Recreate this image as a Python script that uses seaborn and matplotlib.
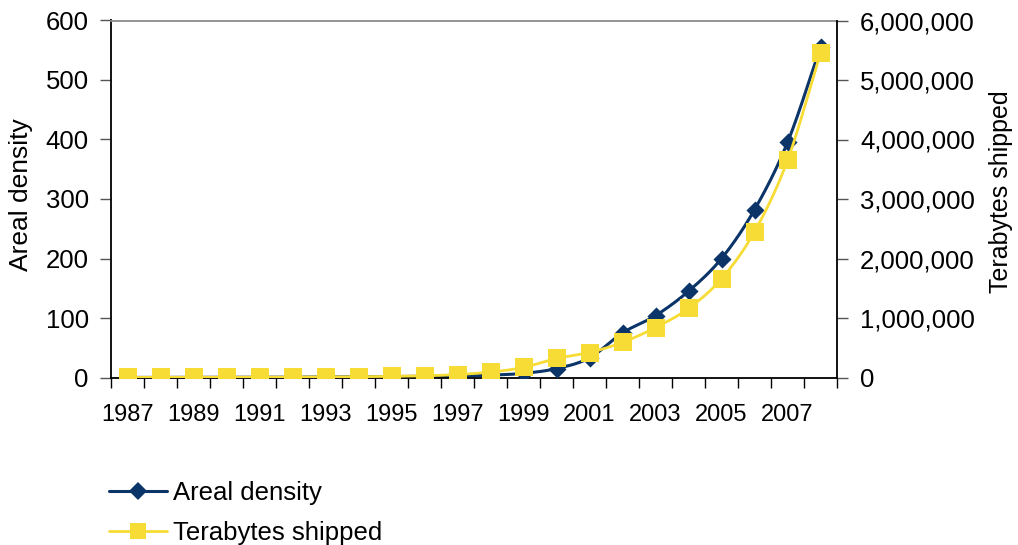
import numpy as np
import matplotlib
matplotlib.use("Agg")
import matplotlib.pyplot as plt
from matplotlib.lines import Line2D
from matplotlib.ticker import FuncFormatter, FixedLocator
import seaborn as sns

# Hard disk areal density vs. terabytes shipped, 1987-2008
years = list(range(1987, 2009))
areal_density = [0.1, 0.15, 0.2, 0.3, 0.4, 0.6, 0.9, 1.2, 1.6, 2.0, 2.5, 4, 7, 15,
                 33, 75, 104, 145, 200, 282, 395, 555]
terabytes_shipped = [1000, 1500, 2000, 3000, 4500, 6500, 9000, 13000, 19000, 28000,
                     50000, 90000, 170000, 320000, 420000, 590000, 840000,
                     1160000, 1660000, 2450000, 3650000, 5450000]
left_ticks = [0, 100, 200, 300, 400, 500, 600]
right_ticks = [0, 1000000, 2000000, 3000000, 4000000, 5000000, 6000000]
year_labels = [y for y in years if y % 2 == 1]

NAVY = "#0B3468"
YELLOW = "#F7DC36"

sns.set_style("white")
plt.rcParams["font.family"] = ["Liberation Sans", "DejaVu Sans"]
plt.rcParams.update({"text.color": "black", "axes.labelcolor": "black",
                     "xtick.color": "black", "ytick.color": "black"})


def smooth(x, y, n=20):
    """Catmull-Rom spline through the points (smoothed line rendering)."""
    x = np.asarray(x, float)
    y = np.asarray(y, float)
    px = np.concatenate([[2 * x[0] - x[1]], x, [2 * x[-1] - x[-2]]])
    py = np.concatenate([[2 * y[0] - y[1]], y, [2 * y[-1] - y[-2]]])
    xs, ys = [], []
    t = np.linspace(0, 1, n, endpoint=False)
    for i in range(1, len(px) - 2):
        for arr, out in ((px, xs), (py, ys)):
            p0, p1, p2, p3 = arr[i - 1], arr[i], arr[i + 1], arr[i + 2]
            out.extend(0.5 * ((2 * p1) + (-p0 + p2) * t
                              + (2 * p0 - 5 * p1 + 4 * p2 - p3) * t ** 2
                              + (-p0 + 3 * p1 - 3 * p2 + p3) * t ** 3))
    xs.append(x[-1])
    ys.append(y[-1])
    return np.array(xs), np.array(ys)


W, H = 1018, 545
fig = plt.figure(figsize=(W / 100, H / 100), dpi=100)
ax = fig.add_axes([111 / W, 1 - 377.5 / H, (837 - 111) / W, (377.5 - 20.5) / H])
ax2 = ax.twinx()

# Areal density (left axis)
sx, sy = smooth(years, areal_density)
sns.lineplot(x=sx, y=sy, ax=ax, color=NAVY, linewidth=2.2, sort=False, estimator=None)
sns.scatterplot(x=years, y=areal_density, ax=ax, color=NAVY, marker="D", s=85,
                edgecolor=NAVY, linewidth=0, zorder=3)

# Terabytes shipped (right axis)
tx, ty = smooth(years, terabytes_shipped)
sns.lineplot(x=tx, y=ty, ax=ax2, color=YELLOW, linewidth=2.0, sort=False, estimator=None)
sns.scatterplot(x=years, y=terabytes_shipped, ax=ax2, color=YELLOW, marker="s", s=150,
                edgecolor=YELLOW, linewidth=0, zorder=3)

for a in (ax, ax2):
    a.set_xlim(1986.5, 2008.5)
    a.grid(False)

ax.set_ylim(0, 600)
ax2.set_ylim(0, 6000000)
ax.set_yticks(left_ticks)
ax2.set_yticks(right_ticks)
ax2.yaxis.set_major_formatter(FuncFormatter(lambda v, p: f"{int(v):,}"))

ax.set_xticks(year_labels)
ax.set_xticklabels([str(y) for y in year_labels])
ax.xaxis.set_minor_locator(FixedLocator(np.arange(1986.5, 2009, 1.0)))
ax.tick_params(axis="x", which="major", length=0, labelsize=17, pad=19, labelcolor="black")
ax.tick_params(axis="x", which="minor", length=7, width=1, direction="out", color="black",
               bottom=True)
ax.tick_params(axis="y", length=8, width=1, direction="out", labelsize=18.5, color="#555555",
               left=True, pad=8, labelcolor="black")
ax2.tick_params(axis="y", length=8, width=1, direction="out", labelsize=18.5, color="#555555",
                right=True, pad=8.5, labelcolor="black")

for s in ("left", "bottom"):
    ax.spines[s].set_color("black")
    ax.spines[s].set_linewidth(1.3)
ax.spines["top"].set_color("#8c8c8c")
ax.spines["top"].set_linewidth(1.3)
ax.spines["right"].set_visible(False)
for s in ("top", "left", "bottom"):
    ax2.spines[s].set_visible(False)
ax2.spines["right"].set_color("black")
ax2.spines["right"].set_linewidth(1.3)

ax.set_ylabel("Areal density", fontsize=19, va="center", ha="center")
ax.yaxis.set_label_coords((21 - 111) / 726, (377.5 - 195) / 357)
ax2.set_ylabel("Terabytes shipped", fontsize=18, rotation=90, va="center", ha="center")
ax2.yaxis.set_label_coords((1001 - 111) / 726, (377.5 - 191.5) / 357)

handles = [
    Line2D([], [], color=NAVY, lw=2.2, marker="D", markersize=9, markeredgewidth=0),
    Line2D([], [], color=YELLOW, lw=2.0, marker="s", markersize=12, markeredgewidth=0),
]
fig.legend(handles, ["Areal density", "Terabytes shipped"], loc="upper left",
           bbox_to_anchor=(109 / W, 1 - 481 / H), frameon=False, fontsize=18.5,
           borderpad=0, borderaxespad=0, handlelength=2.26, handletextpad=0.25,
           labelspacing=0.63)

fig.savefig("out.png", dpi=100)
